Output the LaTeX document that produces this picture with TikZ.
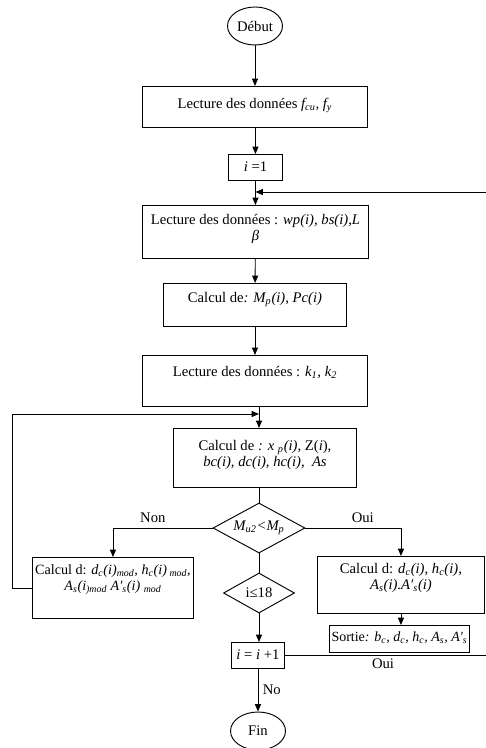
\documentclass[tikz,border=0pt]{standalone}
\usepackage{fontspec}
\setmainfont{Liberation Serif}
\usetikzlibrary{shapes.geometric,arrows.meta}
\newlength\pxu
\setlength\pxu{0.75pt}
% box text: width, height, first baseline (px), text
\newcommand{\cell}[4]{\parbox[t][#2\pxu][t]{#1\pxu}{\centering\rule{0pt}{#3\pxu}#4}}
\newcommand{\ssub}[1]{\textsubscript{#1}}

\begin{document}
\begin{tikzpicture}[x=0.75pt,y=-0.75pt,line width=0.7pt,
    font=\fontsize{11}{11.8}\selectfont,
    stepbox/.style={draw,inner sep=0pt,anchor=north west},
    term/.style={draw,ellipse,inner sep=0pt,minimum width=55\pxu,minimum height=38\pxu},
    test/.style={draw,diamond,inner sep=0.5pt,aspect=1.8},
    arr/.style={-{Triangle[length=5.5pt,width=4.5pt]}}]
    \useasboundingbox (0,0) rectangle (485,748);

    \node[term] (debut) at (255,26) {Début};
    \node[stepbox] (lect1) at (142,86) {\cell{225}{41}{22}{Lecture des données \textit{f\ssub{cu}}, \textit{f\ssub{y}}}};
    \node[stepbox] (init) at (228,154) {\cell{54}{26}{17}{\textit{i} =1}};
    \node[stepbox] (lect2) at (142,205) {\cell{226}{53}{19}{Lecture des données : \textit{wp(i), bs(i),L}\\ \textit{β}}};
    \node[stepbox] (calc1) at (163,283) {\cell{183}{43}{19}{Calcul de\textit{: M\ssub{p}(i), Pc(i)}}};
    \node[stepbox] (lect3) at (142,355) {\cell{225}{51}{21}{Lecture des données : \textit{k\ssub{1}, k\ssub{2}}}};
    \node[stepbox] (calc2) at (173,428) {\cell{183}{59}{22}{Calcul de \textit{: x \ssub{p}(i),} Z(\textit{i}),\\ \textit{bc(i), dc(i), hc(i),\ \ As}}};
    \node[test,minimum width=92\pxu,minimum height=50\pxu] (test1) at (259,528) {\textit{M\ssub{u2}<M\ssub{p}}};
    \node[stepbox] (calcL) at (32,557) {\cell{161}{61}{17}{\fontsize{10.6}{11.8}\selectfont\mbox{Calcul d: \textit{d\ssub{c}(i)\ssub{mod}, h\ssub{c}(i)\ssub{ mod},}}\\ \textit{A\ssub{s}(i\ssub{)mod} A′\ssub{s}(i) \ssub{mod}}}};
    \node[stepbox] (calcR) at (317,556) {\cell{167}{57}{17}{Calcul d: \textit{d\ssub{c}(i), h\ssub{c}(i),}\\ \textit{A\ssub{s}(i).A′\ssub{s}(i)}}};
    \node[test,minimum width=71\pxu,minimum height=40\pxu] (test2) at (259,593) {i≤18};
    \node[stepbox] (sortie) at (329,625) {\cell{140}{27}{16}{\fontsize{10.5}{11}\selectfont\mbox{Sortie\textit{: b\ssub{c}, d\ssub{c}, h\ssub{c}, A\ssub{s}, A′\ssub{s}}}}};
    \node[stepbox] (iinc) at (231,642) {\cell{53}{26}{17}{\textit{i} = \textit{i} +1}};
    \node[term] (fin) at (258,731) {Fin};

    \coordinate (rtop) at (487,192);
    \coordinate (lleft) at (12,414);

    \draw[arr] (debut) -- (debut |- lect1.north);
    \draw[arr] (init |- lect1.south) -- (init);
    \draw[arr] (init) -- (init |- lect2.north);
    \draw[arr] (lect2) -- (calc1);
    \draw[arr] (calc1) -- (calc1 |- lect3.north);
    \draw[arr] (lect3.south -| test1) -- (calc2.north -| test1);
    \draw (calc2.south -| test1) -- (test1);
    \draw[arr] (test1.west) -| (calcL.north) node[pos=0.3,above] (non) {Non};
    \draw[arr] (test1.east) -| (calcR.north) node[pos=0.3,above] (oui) {Oui};
    \draw[arr] (calcR) -- (calcR |- sortie.north);
    \draw (test1) -- (test2);
    \draw[arr] (test2) -- (test2 |- iinc.north);
    \draw[arr] (iinc) -- (iinc |- fin.north) node[midway,right] (no) {No};
    % retour vers i
    \draw[arr] (iinc.east) -- (iinc.east -| rtop) -- (rtop) -- (init |- rtop);
    \node (oui2) at (383,664) {Oui};
    % retour vers calcul
    \draw[arr] (calcL.west) -- (calcL.west -| lleft) -- (lleft) -- (lleft -| test1);
\end{tikzpicture}
\end{document}
